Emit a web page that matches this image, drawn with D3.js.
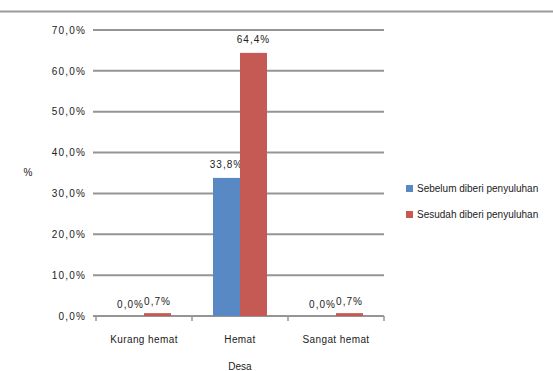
<!DOCTYPE html>
<html>
<head>
<meta charset="utf-8">
<script src="https://cdn.jsdelivr.net/npm/d3@7"></script>
<style>
  html, body { margin: 0; padding: 0; background: #fff; }
  svg { display: block; font-family: "Liberation Sans", Arial, sans-serif; }
</style>
</head>
<body>
<svg id="chart" width="553" height="371"></svg>
<script>
// Category names along the x axis
const categories = ["Kurang hemat", "Hemat", "Sangat hemat"];
// Series names (legend) and their percentages per category
const seriesNames = ["Sebelum diberi penyuluhan", "Sesudah diberi penyuluhan"];
const seriesBefore = [0.0, 33.8, 0.0];
const seriesAfter = [0.7, 64.4, 0.7];
// Y axis ticks (percent)
const yTicks = [0, 10, 20, 30, 40, 50, 60, 70];
const colors = ["#5889c4", "#c55a55"];

const svg = d3.select("#chart");
const plot = { left: 96, right: 384, top: 30, bottom: 316 };

const fmt = v => d3.format(".1f")(v).replace(".", ",") + "%";

const x0 = d3.scaleBand().domain(categories).range([plot.left, plot.right]).padding(0);
// two 27px bars centred in each 96px band
const x1 = d3.scaleBand().domain(d3.range(seriesNames.length))
  .range([x0.bandwidth() / 2 - 27, x0.bandwidth() / 2 + 27]).padding(0);
const y = d3.scaleLinear().domain([0, 70]).range([plot.bottom, plot.top]);

// frame line above the chart area
svg.append("line")
  .attr("x1", 0).attr("x2", 553).attr("y1", 11.5).attr("y2", 11.5)
  .attr("stroke", "#9a9a9a").attr("stroke-width", 2);

// horizontal gridlines
svg.append("g").selectAll("line").data(yTicks).join("line")
  .attr("x1", plot.left - 3).attr("x2", plot.right)
  .attr("y1", d => y(d)).attr("y2", d => y(d))
  .attr("stroke", "#959595").attr("stroke-width", 2);

// y axis labels
const yAxis = d3.axisLeft(y).tickValues(yTicks).tickFormat(fmt).tickSize(0).tickPadding(0);
const gy = svg.append("g").attr("transform", `translate(86,0)`).call(yAxis);
gy.select(".domain").remove();
gy.selectAll("text")
  .attr("font-size", 10).attr("letter-spacing", 1.2).attr("fill", "#222")
  .attr("font-family", "Liberation Sans, Arial, sans-serif");

// x axis: tick marks at category boundaries and labels
const gx = svg.append("g");
gx.selectAll("line").data(d3.range(categories.length + 1)).join("line")
  .attr("x1", i => plot.left + i * x0.bandwidth()).attr("x2", i => plot.left + i * x0.bandwidth())
  .attr("y1", plot.bottom).attr("y2", plot.bottom + 5)
  .attr("stroke", "#959595").attr("stroke-width", 1.5);
gx.selectAll("text").data(categories).join("text")
  .attr("x", d => x0(d) + x0.bandwidth() / 2)
  .attr("y", 343)
  .attr("text-anchor", "middle")
  .attr("font-size", 10).attr("letter-spacing", 0.4).attr("fill", "#222")
  .text(d => d);

// bars with value labels
const series = [seriesBefore, seriesAfter];
const groups = svg.append("g").selectAll("g").data(categories).join("g")
  .attr("transform", d => `translate(${x0(d)},0)`);
groups.each(function(cat, ci) {
  const g = d3.select(this);
  series.forEach((vals, si) => {
    const v = vals[ci];
    g.append("rect")
      .attr("x", x1(si)).attr("width", x1.bandwidth())
      .attr("y", y(v)).attr("height", y(0) - y(v))
      .attr("fill", colors[si]);
    g.append("text")
      .attr("x", x1(si) + x1.bandwidth() / 2)
      .attr("y", y(v) - (v > 5 ? 10 : 8))
      .attr("text-anchor", "middle")
      .attr("font-size", 10).attr("letter-spacing", 1).attr("fill", "#222")
      .text(fmt(v));
  });
});

// axis titles
svg.append("text").attr("x", 28).attr("y", 176).attr("text-anchor", "middle")
  .attr("font-size", 10).attr("fill", "#222").text("%");
svg.append("text").attr("x", 240).attr("y", 370).attr("text-anchor", "middle")
  .attr("font-size", 10).attr("fill", "#222").text("Desa");

// legend
const legend = svg.append("g").attr("transform", "translate(406,185)");
seriesNames.forEach((name, i) => {
  const row = legend.append("g").attr("transform", `translate(0,${i * 26})`);
  row.append("rect").attr("width", 7).attr("height", 7).attr("y", 0).attr("fill", colors[i]);
  row.append("text").attr("x", 11).attr("y", 7).attr("font-size", 10).attr("fill", "#222").text(name);
});
</script>
</body>
</html>
